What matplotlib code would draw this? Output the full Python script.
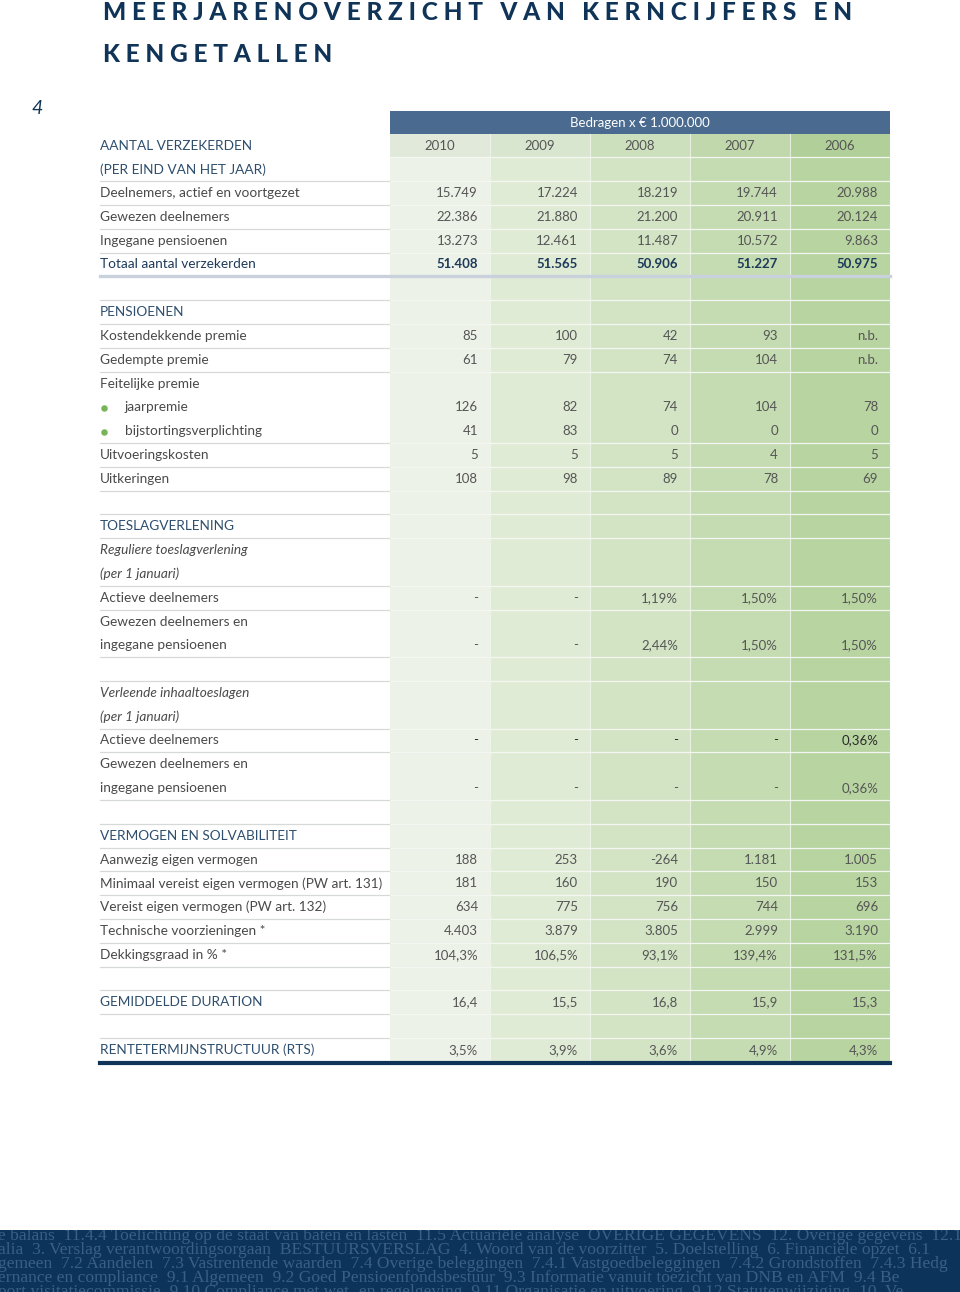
import matplotlib.pyplot as plt
from matplotlib.patches import Rectangle

plt.rcParams['font.family'] = ['Lato', 'DejaVu Sans']

years = ['2010', '2009', '2008', '2007', '2006']
col_colors = ['#edf2e8', '#e0ebd6', '#d3e4c5', '#c5dcb2', '#b8d4a1']
head_colors = ['#e1eada', '#d9e6cf', '#cde0bd', '#c0d8ab', '#b1cf98']

# row labels with a style tag
labels = [
    ('AANTAL VERZEKERDEN', 'head'),
    ('(PER EIND VAN HET JAAR)', 'head'),
    ('Deelnemers, actief en voortgezet', 'normal'),
    ('Gewezen deelnemers', 'normal'),
    ('Ingegane pensioenen', 'normal'),
    ('Totaal aantal verzekerden', 'total'),
    ('', 'blank'),
    ('PENSIOENEN', 'head'),
    ('Kostendekkende premie', 'normal'),
    ('Gedempte premie', 'normal'),
    ('Feitelijke premie', 'normal'),
    ('jaarpremie', 'bullet'),
    ('bijstortingsverplichting', 'bullet'),
    ('Uitvoeringskosten', 'normal'),
    ('Uitkeringen', 'normal'),
    ('', 'blank'),
    ('TOESLAGVERLENING', 'head'),
    ('Reguliere toeslagverlening', 'italic'),
    ('(per 1 januari)', 'italic'),
    ('Actieve deelnemers', 'normal'),
    ('Gewezen deelnemers en', 'normal'),
    ('ingegane pensioenen', 'normal'),
    ('', 'blank'),
    ('Verleende inhaaltoeslagen', 'italic'),
    ('(per 1 januari)', 'italic'),
    ('Actieve deelnemers', 'normal'),
    ('Gewezen deelnemers en', 'normal'),
    ('ingegane pensioenen', 'normal'),
    ('', 'blank'),
    ('VERMOGEN EN SOLVABILITEIT', 'head'),
    ('Aanwezig eigen vermogen', 'normal'),
    ('Minimaal vereist eigen vermogen (PW art. 131)', 'normal'),
    ('Vereist eigen vermogen (PW art. 132)', 'normal'),
    ('Technische voorzieningen *', 'normal'),
    ('Dekkingsgraad in % *', 'normal'),
    ('', 'blank'),
    ('GEMIDDELDE DURATION', 'head'),
    ('', 'blank'),
    ('RENTETERMIJNSTRUCTUUR (RTS)', 'head'),
]

aantal = {
    2: ['15.749', '17.224', '18.219', '19.744', '20.988'],
    3: ['22.386', '21.880', '21.200', '20.911', '20.124'],
    4: ['13.273', '12.461', '11.487', '10.572', '9.863'],
    5: ['51.408', '51.565', '50.906', '51.227', '50.975'],
}
pensioenen = {
    8: ['85', '100', '42', '93', 'n.b.'],
    9: ['61', '79', '74', '104', 'n.b.'],
    11: ['126', '82', '74', '104', '78'],
    12: ['41', '83', '0', '0', '0'],
    13: ['5', '5', '5', '4', '5'],
    14: ['108', '98', '89', '78', '69'],
}
toeslag = {
    19: ['-', '-', '1,19%', '1,50%', '1,50%'],
    21: ['-', '-', '2,44%', '1,50%', '1,50%'],
    25: ['-', '-', '-', '-', '0,36%'],
    27: ['-', '-', '-', '-', '0,36%'],
}
vermogen = {
    30: ['188', '253', '-264', '1.181', '1.005'],
    31: ['181', '160', '190', '150', '153'],
    32: ['634', '775', '756', '744', '696'],
    33: ['4.403', '3.879', '3.805', '2.999', '3.190'],
    34: ['104,3%', '106,5%', '93,1%', '139,4%', '131,5%'],
}
duration = {36: ['16,4', '15,5', '16,8', '15,9', '15,3']}
rts = {38: ['3,5%', '3,9%', '3,6%', '4,9%', '4,3%']}

# rows after which a separator line is drawn
line_after = [1, 2, 3, 4, 6, 7, 8, 9, 12, 13, 14, 15, 16, 18, 19, 21, 22, 24,
              25, 27, 28, 29, 30, 31, 32, 33, 34, 35, 36, 37]

footer_lines = [
    'e balans  11.4.4 Toelichting op de staat van baten en lasten  11.5 Actuariële analyse  OVERIGE GEGEVENS  12. Overige gegevens  12.1',
    'alia  3. Verslag verantwoordingsorgaan  BESTUURSVERSLAG  4. Woord van de voorzitter  5. Doelstelling  6. Financiële opzet  6.1',
    'gemeen  7.2 Aandelen  7.3 Vastrentende waarden  7.4 Overige beleggingen  7.4.1 Vastgoedbeleggingen  7.4.2 Grondstoffen  7.4.3 Hedg',
    'ernance en compliance  9.1 Algemeen  9.2 Goed Pensioenfondsbestuur  9.3 Informatie vanuit toezicht van DNB en AFM  9.4 Be',
    'port visitatiecommissie  9.10 Compliance met wet- en regelgeving  9.11 Organisatie en uitvoering  9.12 Statutenwijziging  10. Ve',
]

fig = plt.figure(figsize=(9.6, 12.92), dpi=100)
ax = fig.add_axes([0, 0, 1, 1])
ax.set_xlim(0, 960)
ax.set_ylim(1292, 0)
ax.axis('off')

navy = '#0f3457'
x0, xl, xr = 100, 390, 890
cw = 100
pitch = 23.8
y0 = 145.5
n = len(labels)


def ry(i):
    return y0 + pitch * i


top = ry(0) - pitch / 2
bottom = ry(n - 1) + pitch / 2

# green columns
for j in range(5):
    ax.add_patch(Rectangle((xl + j * cw, top), cw, bottom - top, color=col_colors[j], lw=0))
    ax.add_patch(Rectangle((xl + j * cw, top), cw, pitch, color=head_colors[j], lw=0))
    if j > 0:
        ax.plot([xl + j * cw] * 2, [top, bottom], color='#f3f6f0', lw=0.8, alpha=0.8)

# header band
ax.add_patch(Rectangle((xl, 111), xr - xl, top - 111, color='#4a6b8f', lw=0))
ax.text((xl + xr) / 2, (111 + top) / 2 + 1, 'Bedragen x € 1.000.000', color='white',
        fontsize=9.5, ha='center', va='center')
for j, yr in enumerate(years):
    ax.text(xl + j * cw + cw / 2, ry(0), yr, color='#555555', fontsize=9.5,
            ha='center', va='center')

# separators
ax.plot([xl, xr], [ry(0.5)] * 2, color='#f4f7f1', lw=0.9)
for i in line_after:
    y = ry(i + 0.5)
    ax.plot([x0, xl], [y, y], color='#d6dad7', lw=0.9)
    ax.plot([xl, xr], [y, y], color='#f4f7f1', lw=0.9)
ax.plot([x0, xr], [ry(5.5)] * 2, color='#c9d2dc', lw=2.4)
ax.plot([x0, xr], [ry(n - 1 + 0.5) + 1] * 2, color=navy, lw=3)

# labels
for i, (lab, style) in enumerate(labels):
    y = ry(i)
    if style == 'blank':
        continue
    if style == 'head':
        ax.text(x0, y, lab, color='#2e4e6e', fontsize=9.8, va='center')
    elif style == 'total':
        ax.text(x0, y, lab, color='#1d3a5a', fontsize=9.8, va='center')
    elif style == 'italic':
        ax.text(x0, y, lab, color='#4a4a4a', fontsize=9.8, va='center', style='italic')
    elif style == 'bullet':
        ax.scatter([103.5], [y + 1], s=22, color='#7ab45a', lw=0, zorder=3)
        ax.text(125, y, lab, color='#4a4a4a', fontsize=9.8, va='center')
    else:
        ax.text(x0, y, lab, color='#4a4a4a', fontsize=9.8, va='center')

# values
for block in [aantal, pensioenen, toeslag, vermogen, duration, rts]:
    for i, vals in block.items():
        color = '#555555'
        weight = 'normal'
        if i == 5:
            color, weight = '#1d3a5a', 'bold'
        if i == 25:
            color = '#2a2a2a'
        for j, v in enumerate(vals):
            ax.text(xl + (j + 1) * cw - 12, ry(i), v, color=color, fontsize=9.5,
                    ha='right', va='center', fontweight=weight)

# title and page number
ax.text(103, 13, 'M E E R J A R E N O V E R Z I C H T   V A N   K E R N C I J F E R S   E N',
        color=navy, fontsize=17.6, fontweight='black', va='center')
ax.text(103, 55, 'K E N G E T A L L E N', color=navy, fontsize=17.6, fontweight='black', va='center')
ax.text(37, 108, '4', color=navy, fontsize=14, style='italic', ha='center', va='center')

# footer band
band = Rectangle((0, 1230), 960, 62, color='#0c335a', lw=0)
ax.add_patch(band)
for k, line in enumerate(footer_lines):
    t = ax.text(-2, 1236 + 14 * k, line, color='#3a5f87', fontsize=12.6,
                family='Liberation Serif', va='center', clip_on=True)
    t.set_clip_path(band)

fig.savefig('out.png', dpi=100)
